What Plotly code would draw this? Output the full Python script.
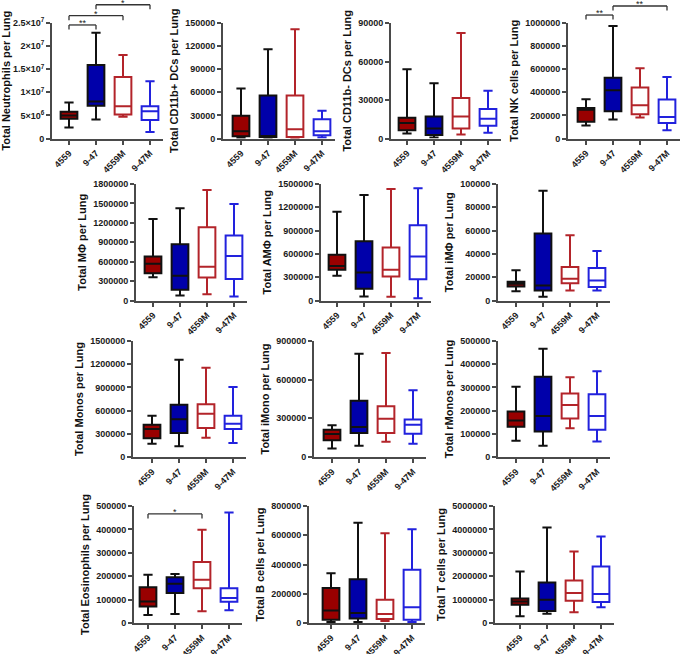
import plotly.graph_objects as go

W, H = 685, 654

GROUPS = ["4559", "9-47", "4559M", "9-47M"]
FILL = ["#990000", "#0000AA", "#FFFFFF", "#FFFFFF"]
EDGE = ["#111111", "#111111", "#B3242A", "#2222DD"]

# five-number summaries per group (order of GROUPS)
neutrophils = dict(lo=[2.4e6, 4.1e6, 4.7e6, 1.4e6], q1=[4.3e6, 7.1e6, 5.2e6, 4.0e6],
                   med=[5.0e6, 8.0e6, 7.0e6, 5.9e6], q3=[5.8e6, 15.9e6, 13.3e6, 7.0e6],
                   hi=[7.8e6, 22.9e6, 18.1e6, 12.4e6])
cd11b_pos_dc = dict(lo=[1000, 1000, 800, 1300], q1=[3000, 2000, 2000, 4300],
                    med=[9500, 3000, 12000, 9500], q3=[29400, 56000, 56000, 25000],
                    hi=[64800, 115800, 141800, 36000])
cd11b_neg_dc = dict(lo=[3900, 800, 3100, 4400], q1=[6400, 2800, 7700, 10000],
                    med=[12000, 7700, 17200, 15400], q3=[16200, 17200, 31600, 22900],
                    hi=[54000, 43000, 82300, 37300])
nk_cells = dict(lo=[112000, 164000, 182000, 72000], q1=[144000, 236000, 210000, 135000],
                med=[250000, 418000, 288000, 187000], q3=[265000, 525000, 441000, 337000],
                hi=[340000, 975000, 608000, 533000])
macrophages = dict(lo=[360000, 77000, 98000, 62000], q1=[422000, 165000, 355000, 334000],
                   med=[566000, 381000, 520000, 689000], q3=[679000, 869000, 1132000, 1003000],
                   hi=[1260000, 1425000, 1708000, 1492000])
alv_macrophages = dict(lo=[319000, 52000, 47000, 30000], q1=[397000, 151000, 310000, 272000],
                       med=[444000, 362000, 397000, 565000], q3=[590000, 763000, 681000, 970000],
                       hi=[1142000, 1358000, 1435000, 1444000])
int_macrophages = dict(lo=[8000, 3200, 8600, 8600], q1=[12100, 8600, 14900, 11500],
                       med=[14400, 12900, 18700, 17200], q3=[16100, 57500, 28700, 27900],
                       hi=[25900, 94300, 56000, 42500])
monos = dict(lo=[172000, 138000, 250000, 181000], q1=[241000, 310000, 375000, 362000],
             med=[362000, 487000, 560000, 431000], q3=[418000, 677000, 681000, 534000],
             hi=[534000, 1259000, 1155000, 905000])
imono = dict(lo=[65000, 88000, 119000, 103000], q1=[129000, 186000, 186000, 181000],
             med=[178000, 233000, 297000, 251000], q3=[212000, 437000, 393000, 290000],
             hi=[246000, 802000, 807000, 517000])
rmonos = dict(lo=[70000, 49000, 124000, 67000], q1=[130000, 110000, 166000, 117000],
              med=[157000, 177000, 224000, 177000], q3=[196000, 346000, 274000, 271000],
              hi=[303000, 467000, 344000, 370000])
eosinophils = dict(lo=[34000, 38000, 50000, 54000], q1=[71000, 128000, 148000, 91000],
                   med=[92000, 168000, 185000, 107000], q3=[153000, 196000, 261000, 148000],
                   hi=[206000, 209000, 398000, 472000])
b_cells = dict(lo=[7000, 7000, 14000, 7000], q1=[23000, 30000, 27000, 23000],
               med=[86000, 68000, 61000, 107000], q3=[239000, 300000, 159000, 364000],
               hi=[341000, 686000, 614000, 641000])
t_cells = dict(lo=[284000, 398000, 455000, 668000], q1=[781000, 511000, 952000, 895000],
               med=[923000, 994000, 1278000, 1236000], q3=[1050000, 1733000, 1818000, 2415000],
               hi=[2200000, 4077000, 3054000, 3693000])

titles = ["Total Neutrophils per Lung", "Total CD11b+ DCs per Lung", "Total CD11b- DCs per Lung",
          "Total NK cells per Lung", "Total MΦ per Lung", "Total AMΦ per Lung", "Total iMΦ per Lung",
          "Total Monos per Lung", "Total iMono per Lung", "Total rMonos per Lung",
          "Total Eosinophils per Lung", "Total B cells per Lung", "Total T cells per Lung"]
datasets = [neutrophils, cd11b_pos_dc, cd11b_neg_dc, nk_cells, macrophages, alv_macrophages,
            int_macrophages, monos, imono, rmonos, eosinophils, b_cells, t_cells]
y_max = [2.5e7, 150000, 90000, 1000000, 1800000, 1500000, 100000, 1500000, 900000, 500000,
         500000, 800000, 5000000]
y_step = [5e6, 30000, 30000, 200000, 300000, 300000, 20000, 300000, 300000, 100000,
          100000, 200000, 1000000]
neut_ticktext = ["0", "5×10<sup>6</sup>", "1×10<sup>7</sup>", "1.5×10<sup>7</sup>",
                 "2×10<sup>7</sup>", "2.5×10<sup>7</sup>"]

# significance brackets: (panel, group a, group b, label, level in axis-domain units)
brackets = [(0, 0, 1, "**", 0.983), (0, 0, 2, "*", 1.063), (0, 1, 3, "*", 1.158),
            (3, 0, 1, "**", 1.069), (3, 1, 3, "**", 1.147),
            (10, 0, 2, "*", 0.932)]

# layout geometry (pixels): y-axis x position, offset of first box, row
panel_x = [52, 223, 391, 568, 136, 321, 498, 133, 314, 498, 134, 309, 495]
panel_off = [17, 18, 16, 18, 17, 16, 18, 19, 18, 18, 14, 22, 25]
panel_row = [0, 0, 0, 0, 1, 1, 1, 2, 2, 2, 3, 3, 3]
row_px = [(23, 138.5), (184, 300.5), (341, 457), (506, 623)]
SP = 27.0

FONT = "Arial, Liberation Sans, sans-serif"
AX = "#4a4a4a"

fig = go.Figure()
layout = dict(width=W, height=H, margin=dict(l=0, r=0, t=0, b=0, autoexpand=False),
              template="none",
              paper_bgcolor="white", plot_bgcolor="white", showlegend=False,
              font=dict(family=FONT, color="#111"), shapes=[], annotations=[])

for k, d in enumerate(datasets):
    n = k + 1
    xn = "x" if n == 1 else f"x{n}"
    yn = "y" if n == 1 else f"y{n}"
    for g in range(4):
        fig.add_trace(go.Box(
            x=[g], q1=[d["q1"][g]], median=[d["med"][g]], q3=[d["q3"][g]],
            lowerfence=[d["lo"][g]], upperfence=[d["hi"][g]], orientation="v",
            xaxis=xn, yaxis=yn, fillcolor=FILL[g], line=dict(color=EDGE[g], width=2),
            width=0.62, whiskerwidth=0.55, boxpoints=False, hoverinfo="skip"))
    x0 = panel_x[k]
    off = panel_off[k]
    x1 = x0 + off + 3 * SP + 13
    top, bot = row_px[panel_row[k]]
    tv = []
    v = 0.0
    while v <= y_max[k] * 1.0001:
        tv.append(v)
        v += y_step[k]
    tt = neut_ticktext if k == 0 else [str(int(round(t))) for t in tv]
    layout["xaxis" if n == 1 else f"xaxis{n}"] = dict(
        domain=[x0 / W, x1 / W], anchor=yn, range=[-off / SP, 3 + 13 / SP],
        automargin=False, fixedrange=True,
        tickmode="array", tickvals=[0, 1, 2, 3], ticktext=GROUPS, tickangle=-45,
        showline=True, linecolor=AX, linewidth=2, ticks="outside", ticklen=4,
        tickwidth=1.5, tickcolor=AX, showgrid=False, zeroline=False,
        tickfont=dict(size=9, family=FONT, color="#1a1a1a", weight="bold"))
    layout["yaxis" if n == 1 else f"yaxis{n}"] = dict(
        domain=[1 - bot / H, 1 - top / H], anchor=xn, range=[0, y_max[k]],
        automargin=False, fixedrange=True,
        tickmode="array", tickvals=tv, ticktext=tt,
        showline=True, linecolor=AX, linewidth=2, ticks="outside", ticklen=4,
        tickwidth=1.5, tickcolor=AX, showgrid=False, zeroline=False,
        tickfont=dict(size=9, family=FONT, color="#1a1a1a", weight="bold"),
        title=dict(text=titles[k], standoff=4,
                   font=dict(size=11, family=FONT, color="#111", weight="bold")))

for (k, a, b, lab, lvl) in brackets:
    n = k + 1
    xn = "x" if n == 1 else f"x{n}"
    yd = ("y" if n == 1 else f"y{n}") + " domain"
    top, bot = row_px[panel_row[k]]
    tick = 4.5 / (bot - top)
    ln = dict(color="#333", width=1.3)
    layout["shapes"] += [
        dict(type="line", xref=xn, yref=yd, x0=a, x1=b, y0=lvl, y1=lvl, line=ln),
        dict(type="line", xref=xn, yref=yd, x0=a, x1=a, y0=lvl, y1=lvl - tick, line=ln),
        dict(type="line", xref=xn, yref=yd, x0=b, x1=b, y0=lvl, y1=lvl - tick, line=ln),
    ]
    layout["annotations"].append(dict(
        xref=xn, yref=yd, x=(a + b) / 2, y=lvl, text=lab, showarrow=False,
        yanchor="bottom", yshift=-5, font=dict(size=9, family=FONT, color="#222")))

fig.update_layout(**layout)
fig.write_html("out.html", config={"displayModeBar": False},
               post_script="document.body.style.margin='0';document.body.style.padding='0';")
